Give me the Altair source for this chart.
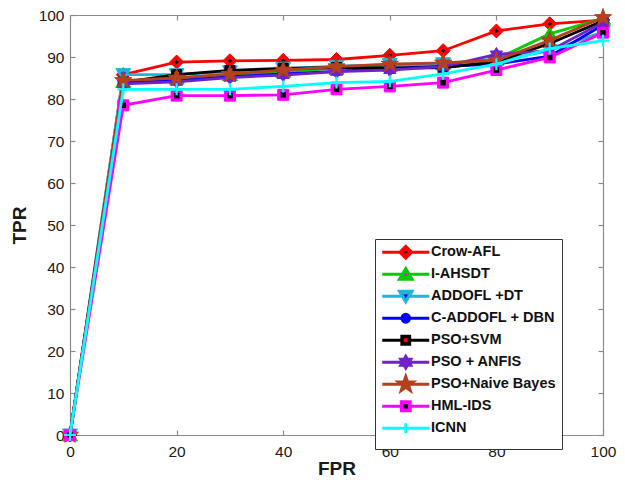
import altair as alt
import pandas as pd
import numpy as np

fpr = [0, 10, 20, 30, 40, 50, 60, 70, 80, 90, 100]
series_names = ["Crow-AFL", "I-AHSDT", "ADDOFL +DT", "C-ADDOFL + DBN", "PSO+SVM",
                "PSO + ANFIS", "PSO+Naive Bayes", "HML-IDS", "ICNN"]
tpr_crow_afl = [0, 85.8, 88.8, 89.1, 89.2, 89.4, 90.4, 91.5, 96.2, 97.9, 98.8]
tpr_i_ahsdt = [0, 84.2, 85.0, 85.8, 86.6, 87.3, 88.0, 88.5, 89.5, 95.5, 99.2]
tpr_addofl_dt = [0, 85.8, 85.8, 86.5, 87.2, 87.8, 88.2, 88.4, 89.0, 91.5, 96.0]
tpr_c_addofl_dbn = [0, 83.8, 84.4, 85.3, 86.0, 86.6, 87.3, 87.8, 88.3, 90.2, 97.6]
tpr_pso_svm = [0, 84.0, 85.8, 86.8, 87.3, 87.5, 87.4, 87.4, 88.9, 93.2, 98.6]
tpr_pso_anfis = [0, 83.6, 84.1, 85.1, 85.7, 86.5, 86.9, 87.7, 90.6, 91.5, 98.2]
tpr_pso_nb = [0, 84.4, 85.0, 85.9, 86.9, 87.7, 88.3, 88.6, 89.2, 94.0, 99.4]
tpr_hml_ids = [0, 78.5, 80.8, 80.8, 81.0, 82.3, 83.0, 83.9, 86.9, 89.9, 95.8]
tpr_icnn = [0, 82.3, 82.3, 82.3, 83.0, 83.9, 84.2, 86.0, 88.3, 92.0, 93.9]
all_tpr = [tpr_crow_afl, tpr_i_ahsdt, tpr_addofl_dt, tpr_c_addofl_dbn, tpr_pso_svm,
           tpr_pso_anfis, tpr_pso_nb, tpr_hml_ids, tpr_icnn]

line_colors = ["#FF0000", "#00CC00", "#1FB4DA", "#0000FF", "#000000",
               "#6E22C8", "#B3401E", "#FF00FF", "#00FFFF"]
face_colors = ["#000000", "#FF00FF", "#0000FF", "#0000FF", "#FF0000",
               "#6E22C8", "#B3401E", "#000000", "#00FFFF"]
marker_kinds = ["diamond", "tri_up", "tri_down", "circle", "square",
                "hexagram", "pentagram", "square", "plus"]
marker_half = [7.0, 7.5, 7.5, 5.0, 5.0, 7.0, 9.0, 5.5, 6.0]     # px, outer marker
inner_frac = [0.3, 0.35, 0.35, 0.0, 0.5, 0.0, 0.0, 0.5, 0.0]   # face-coloured centre
x_ticks = [0, 20, 40, 60, 80, 100]
y_ticks = [0, 10, 20, 30, 40, 50, 60, 70, 80, 90, 100]

W, H = 533, 420


def star_pts(n, inner):
    pts = []
    for k in range(2 * n):
        ang = -np.pi / 2 + k * np.pi / n
        r = 1.0 if k % 2 == 0 else inner
        pts.append((r * np.cos(ang), r * np.sin(ang)))
    return pts


def poly_path(pts, s):
    return "M" + "L".join(f"{x * s:.3f},{y * s:.3f}" for x, y in pts) + "Z"


def marker_path(kind, s):
    if s <= 0:
        return ""
    if kind == "diamond":
        return poly_path([(0, -1), (1, 0), (0, 1), (-1, 0)], s)
    if kind == "tri_up":
        return poly_path([(0, -0.9), (1, 0.8), (-1, 0.8)], s)
    if kind == "tri_down":
        return poly_path([(0, 0.9), (1, -0.8), (-1, -0.8)], s)
    if kind == "circle":
        return f"M{s:.3f},0A{s:.3f},{s:.3f},0,1,1,{-s:.3f},0A{s:.3f},{s:.3f},0,1,1,{s:.3f},0Z"
    if kind == "square":
        return poly_path([(-1, -1), (1, -1), (1, 1), (-1, 1)], s)
    if kind == "hexagram":
        return poly_path(star_pts(6, 0.58), s)
    if kind == "pentagram":
        return poly_path(star_pts(5, 0.4), s)
    if kind == "plus":
        return f"M{-s:.3f},0H{s:.3f}M0,{-s:.3f}V{s:.3f}"


unit_shapes = [marker_path(k, 1.0) for k in marker_kinds]

# legend symbols (size 100 -> 1 unit = 5 px): line + marker, with fixed invisible bounds
LEG_UNIT = 5.0
LEG_FRAME = "M0,-1.67L0,-1.67M0,1.67L0,1.67M-4.7,0H4.7"
legend_outer = [LEG_FRAME + marker_path(k, (h - 1.0) / LEG_UNIT)
                for k, h in zip(marker_kinds, marker_half)]
legend_inner = [LEG_FRAME + marker_path(k, (h - 1.0) * f / LEG_UNIT)
                for k, h, f in zip(marker_kinds, marker_half, inner_frac)]

rows = []
for name, vals in zip(series_names, all_tpr):
    for x, y in zip(fpr, vals):
        rows.append({"series": name, "fpr": x, "tpr": y})
df = pd.DataFrame(rows)

FONT = "Liberation Sans"
xscale = alt.Scale(domain=[0, 100], nice=False, zero=False)
yscale = alt.Scale(domain=[0, 100], nice=False, zero=False)

x_axis = alt.Axis(values=x_ticks, title="FPR", ticks=False, labelPadding=9, titlePadding=0,
                  labelFlush=False)
y_axis = alt.Axis(values=y_ticks, title="TPR", ticks=False, labelPadding=6, titlePadding=9,
                  labelFlush=False)

color_scale = alt.Scale(domain=series_names, range=line_colors)

layers = []
for i, name in enumerate(series_names):
    d = df[df["series"] == name]
    base = alt.Chart(d)
    X = alt.X("fpr:Q", scale=xscale, axis=x_axis)
    Y = alt.Y("tpr:Q", scale=yscale, axis=y_axis)
    line = base.mark_line(strokeWidth=2.8).encode(
        x=X, y=Y, color=alt.Color("series:N", scale=color_scale, legend=None))
    layers.append(line)
    size_outer = (2 * marker_half[i]) ** 2
    if marker_kinds[i] == "plus":
        outer = base.mark_point(shape=unit_shapes[i], size=size_outer, filled=False,
                                strokeWidth=2.2, opacity=1).encode(
            x=X, y=Y, stroke=alt.Stroke("series:N", scale=color_scale, legend=None))
    else:
        outer = base.mark_point(shape=unit_shapes[i], size=size_outer, filled=True,
                                strokeWidth=1, opacity=1).encode(
            x=X, y=Y,
            fill=alt.Fill("series:N", scale=color_scale, legend=None),
            stroke=alt.Stroke("series:N", scale=color_scale, legend=None))
    layers.append(outer)
    if inner_frac[i] > 0:
        size_inner = (2 * marker_half[i] * inner_frac[i]) ** 2
        inner = base.mark_point(shape=unit_shapes[i], size=size_inner, filled=True,
                                strokeWidth=0, opacity=1, color=face_colors[i]).encode(x=X, y=Y)
        layers.append(inner)

main = alt.layer(*layers)

tick_src = df.head(2)
ticks_a = alt.Chart(tick_src).mark_point(opacity=0).encode(
    x=alt.X("fpr:Q", scale=xscale,
            axis=alt.Axis(orient="top", values=x_ticks, labels=False, title=None,
                          domain=False, tickSize=5, offset=-H)),
    y=alt.Y("tpr:Q", scale=yscale,
            axis=alt.Axis(orient="right", values=y_ticks, labels=False, title=None,
                          domain=False, tickSize=5, offset=-W)),
)
ticks_b = alt.Chart(tick_src).mark_point(opacity=0).encode(
    x=alt.X("fpr:Q", scale=xscale,
            axis=alt.Axis(orient="bottom", values=x_ticks, labels=False, title=None,
                          domain=False, tickSize=5, offset=-H)),
    y=alt.Y("tpr:Q", scale=yscale,
            axis=alt.Axis(orient="left", values=y_ticks, labels=False, title=None,
                          domain=False, tickSize=5, offset=-W)),
)
edges = alt.Chart(tick_src).mark_point(opacity=0).encode(
    x=alt.X("fpr:Q", scale=xscale,
            axis=alt.Axis(orient="top", values=x_ticks, labels=False, title=None, ticks=False)),
    y=alt.Y("tpr:Q", scale=yscale,
            axis=alt.Axis(orient="right", values=y_ticks, labels=False, title=None, ticks=False)),
)

# legend-only layers (no rows drawn; entries come from the explicit scale domains)
leg_a = alt.Legend(title=None, zindex=1, fillColor="white", strokeColor="#333333")
legend_a = alt.Chart(df).transform_filter("datum.fpr < 0").mark_point(
    size=100, strokeWidth=2.8, opacity=1, fillOpacity=1).encode(
    stroke=alt.Stroke("series:N", scale=alt.Scale(domain=series_names, range=line_colors),
                      legend=leg_a),
    fill=alt.Fill("series:N", scale=alt.Scale(domain=series_names, range=line_colors),
                  legend=leg_a),
    shape=alt.Shape("series:N", scale=alt.Scale(domain=series_names, range=legend_outer),
                    legend=leg_a),
)
leg_b = alt.Legend(title=None, zindex=2, fillColor="transparent", strokeColor="transparent",
                   labelOpacity=0)
legend_b = alt.Chart(df).transform_filter("datum.fpr < 0").mark_point(
    size=100, strokeWidth=2.8, opacity=1, fillOpacity=1).encode(
    stroke=alt.Stroke("series:N",
                      scale=alt.Scale(domain=series_names, range=["transparent"] * 9),
                      legend=leg_b),
    fill=alt.Fill("series:N", scale=alt.Scale(domain=series_names, range=face_colors),
                  legend=leg_b),
    shape=alt.Shape("series:N", scale=alt.Scale(domain=series_names, range=legend_inner),
                    legend=leg_b),
)

chart = alt.layer(main, ticks_a, ticks_b, edges, legend_a, legend_b).resolve_scale(
    x="independent", y="independent", shape="independent", stroke="independent",
    fill="independent").properties(
    width=W, height=H,
    padding={"left": 62, "top": 7, "right": 14, "bottom": 55},
    autosize=alt.AutoSizeParams(type="none"),
).configure_view(stroke=None).configure_axis(
    grid=False, domainColor="#8a8a8a", tickColor="#8a8a8a", domainWidth=1.2, tickWidth=1.2,
    labelFont=FONT, labelFontSize=15.5, labelColor="#1a1a1a",
    titleFont=FONT, titleFontSize=19, titleFontWeight="bold", titleColor="#1a1a1a",
).configure_legend(
    orient="none", legendX=305, legendY=224, padding=6,
    labelFont=FONT, labelFontSize=14.5, labelFontWeight="bold",
    labelColor="#111111", rowPadding=-10, symbolSize=100, symbolOffset=17.5, labelOffset=18,
    symbolStrokeWidth=2.8, cornerRadius=0,
)

chart.save("out.html", embed_options={"renderer": "svg", "actions": False})
